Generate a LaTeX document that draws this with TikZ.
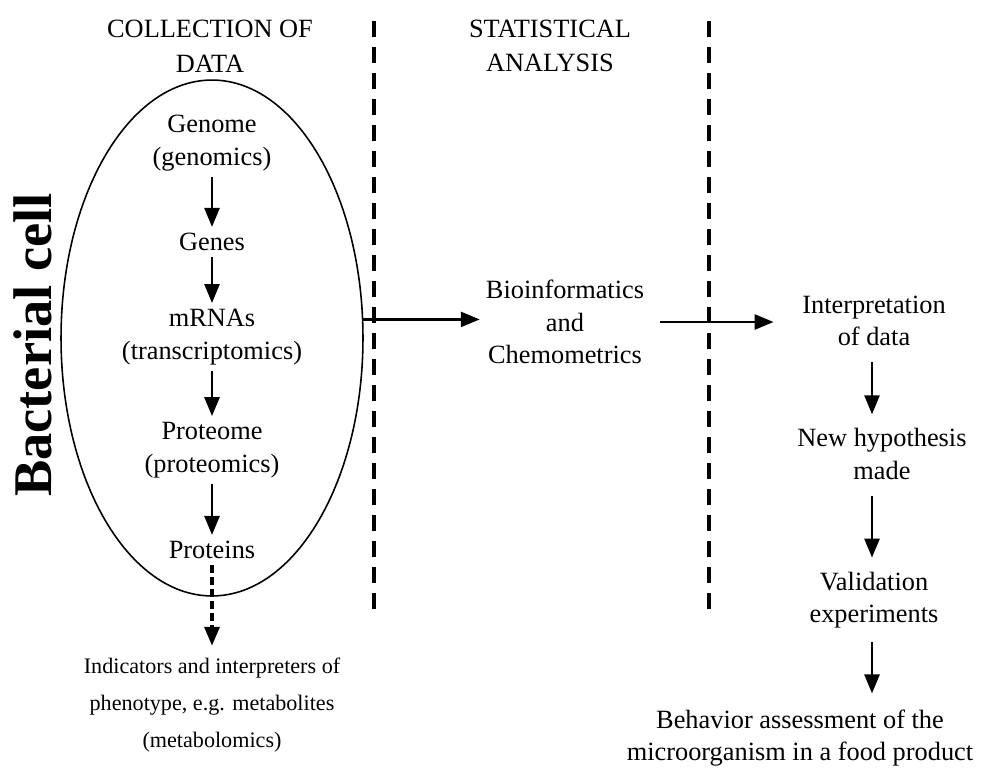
\documentclass[tikz,border=0pt]{standalone}
\usepackage{fontspec}
\setmainfont{Liberation Serif}
\usetikzlibrary{arrows.meta,shapes.geometric}

\begin{document}
\begin{tikzpicture}[
		x=0.02cm, y=-0.02cm,
		step label/.style={align=center, font=\fontsize{15}{18.5}\selectfont},
		heading/.style={align=center, font=\fontsize{15}{19.8}\selectfont},
		cell/.style={draw, ellipse, line width=0.9pt, inner sep=0pt, minimum width=6.04cm, minimum height=10.32cm},
		flow/.style={-{Triangle[length=0.38cm,width=0.3cm]}, line width=1.5pt},
		hint/.style={flow, line width=2pt, dash pattern=on 0.16cm off 0.08cm},
		divider/.style={line width=2.8pt, dash pattern=on 0.32cm off 0.2cm}
		]
		
		\useasboundingbox (0,0) rectangle (981,771);
		
		% column headings and dividers
		\node[heading] (collect) at (210,46) {COLLECTION OF\\DATA};
		\node[heading] (stats) at (550,46) {STATISTICAL\\ANALYSIS};
		\draw[divider] (374,21) -- (374,609);
		\draw[divider] (709,21) -- (709,609);
		
		% the cell
		\node[cell] (bcell) at (212,338) {};
		\node[rotate=90, font=\fontsize{31}{36}\selectfont\bfseries] (bname) at (33,345) {Bacterial cell};
		
		\node[step label] (genome) at (212,143) {Genome\\(genomics)};
		\node[step label] (genes) at (212,242) {Genes};
		\node[step label] (mrna) at (212,337) {mRNAs\\(transcriptomics)};
		\node[step label] (proteome) at (212,450) {Proteome\\(proteomics)};
		\node[step label] (proteins) at (212,550) {Proteins};
		\node[align=center, font=\fontsize{12.6}{21}\selectfont] (metab) at (212,705) {Indicators and interpreters of\\phenotype, e.g. metabolites\\(metabolomics)};
		
		\draw[flow] (genome) -- (genes);
		\draw[flow] (genes) -- (mrna);
		\draw[flow] (mrna) -- (proteome);
		\draw[flow] (proteome) -- (proteins);
		\draw[hint, shorten >=0.12cm] (proteins) -- (metab);
		
		% analysis and follow-up
		\node[step label] (bioinf) at (565,322) {Bioinformatics\\and\\Chemometrics};
		\node[step label] (interp) at (874,321) {Interpretation\\of data};
		\node[step label] (newhyp) at (882,454) {New hypothesis\\made};
		\node[step label] (valid) at (874,600) {Validation\\experiments};
		\node[step label] (behav) at (800,738) {Behavior assessment of the\\microorganism in a food product};
		
		\draw[flow] (bcell.7) -- (bcell.7 -| bioinf.west);
		\draw[flow, shorten <=0.2cm, shorten >=0.45cm] (bioinf.east) -- (bioinf.east -| interp.west);
		\draw[flow, shorten <=0.2cm, shorten >=0.16cm] ([xshift=-0.04cm]interp.south) -- ([xshift=-0.04cm]interp.south |- newhyp.north);
		\draw[flow, shorten <=0.2cm, shorten >=0.16cm] ([xshift=-0.04cm]valid.north |- newhyp.south) -- ([xshift=-0.04cm]valid.north);
		\draw[flow, shorten <=0.16cm, shorten >=0.2cm] ([xshift=-0.04cm]valid.south) -- ([xshift=-0.04cm]valid.south |- behav.north);
		
	\end{tikzpicture}
\end{document}
